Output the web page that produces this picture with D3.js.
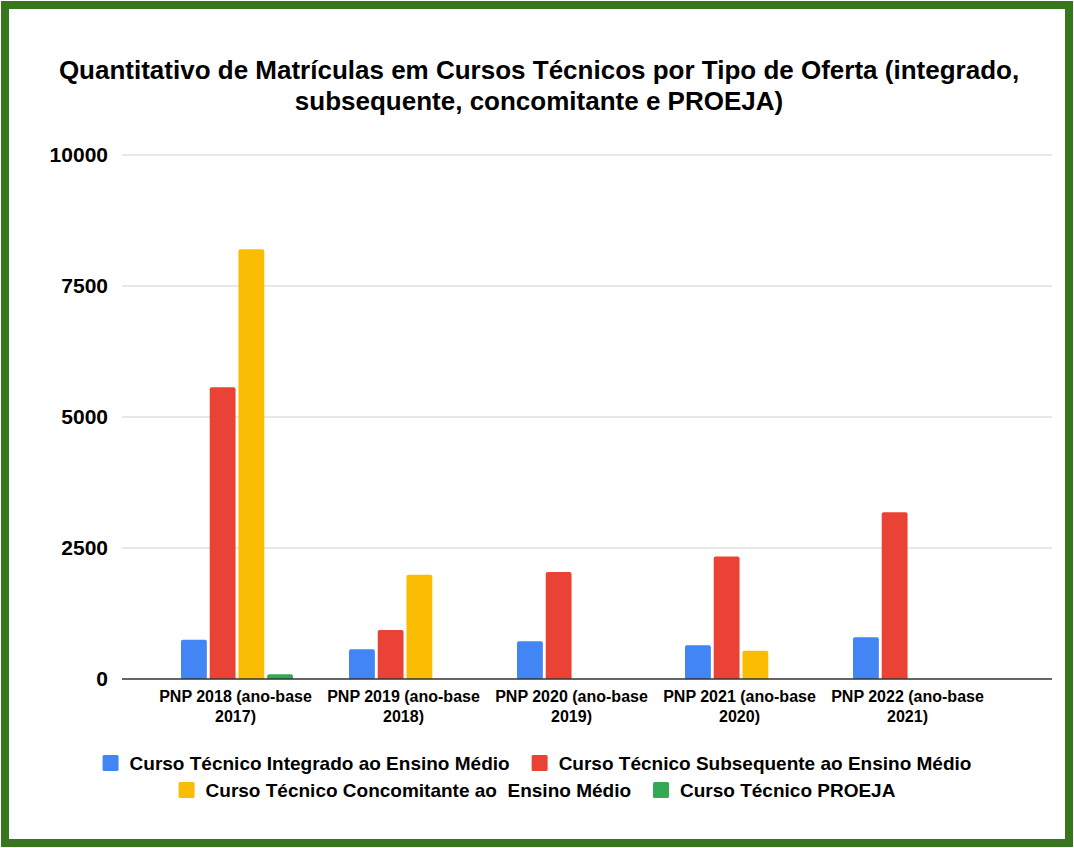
<!DOCTYPE html>
<html>
<head>
  <meta charset="utf-8">
  <script src="https://cdn.jsdelivr.net/npm/d3@7"></script>
  <style>
    body {margin:0; background:#fff;}
    text {font-family: "Liberation Sans", Arial, sans-serif; font-weight: bold; fill:#000;}
  </style>
</head>
<body>
<script>
const categories = [
  ["PNP 2018 (ano-base", "2017)"],
  ["PNP 2019 (ano-base", "2018)"],
  ["PNP 2020 (ano-base", "2019)"],
  ["PNP 2021 (ano-base", "2020)"],
  ["PNP 2022 (ano-base", "2021)"]
];
const seriesNames = [
  "Curso Técnico Integrado ao Ensino Médio",
  "Curso Técnico Subsequente ao Ensino Médio",
  "Curso Técnico Concomitante ao  Ensino Médio",
  "Curso Técnico PROEJA"
];
const colors = ["#4285f4", "#ea4335", "#fbbc04", "#34a853"];
const integrado    = [750, 570, 720, 645, 795];
const subsequente  = [5570, 935, 2040, 2340, 3180];
const concomitante = [8200, 1990, 0, 540, 0];
const proeja       = [90, 0, 0, 0, 0];
const yTicks = [0, 2500, 5000, 7500, 10000];

const values = [integrado, subsequente, concomitante, proeja];
const W = 1074, H = 848;

const svg = d3.select("body").append("svg").attr("width", W).attr("height", H);

// green frame
svg.append("rect").attr("x", 5).attr("y", 5).attr("width", W - 10).attr("height", H - 10)
  .attr("fill", "#fff").attr("stroke", "#38761d").attr("stroke-width", 8);

// title
const title = svg.append("text").attr("text-anchor", "middle").style("font-size", "26px");
title.append("tspan").attr("x", 539).attr("y", 79)
  .text("Quantitativo de Matrículas em Cursos Técnicos por Tipo de Oferta (integrado,");
title.append("tspan").attr("x", 539).attr("y", 110)
  .text("subsequente, concomitante e PROEJA)");

const y = d3.scaleLinear().domain([0, 10000]).range([679, 155]);
const x = d3.scaleBand().domain(d3.range(categories.length)).range([151.5, 991.5]);
const xs = d3.scaleBand().domain(d3.range(seriesNames.length))
  .range([29.5, 29.5 + 4 * 28]).paddingInner(0.1);

// gridlines
svg.append("g").selectAll("line").data(yTicks.slice(1)).join("line")
  .attr("x1", 122).attr("x2", 1052)
  .attr("y1", d => y(d)).attr("y2", d => y(d))
  .attr("stroke", "#d0d0d0").attr("stroke-width", 1);

// y labels
svg.append("g").selectAll("text").data(yTicks).join("text")
  .attr("x", 108).attr("y", d => y(d) + 7)
  .attr("text-anchor", "end").style("font-size", "21px")
  .text(d => d);

// bars
const groups = svg.append("g").selectAll("g").data(categories).join("g")
  .attr("transform", (d, i) => `translate(${x(i)},0)`);
groups.selectAll("path").data((d, i) => values.map((s, k) => ({k, v: s[i]})).filter(e => e.v > 0))
  .join("path")
  .attr("fill", d => colors[d.k])
  .attr("d", d => {
    const x0 = xs(d.k), w = xs.bandwidth(), y0 = y(d.v), y1 = y(0), r = Math.min(2, (y1 - y0) / 2);
    return `M${x0},${y1}V${y0 + r}Q${x0},${y0} ${x0 + r},${y0}H${x0 + w - r}Q${x0 + w},${y0} ${x0 + w},${y0 + r}V${y1}Z`;
  });

// baseline
svg.append("line").attr("x1", 122).attr("x2", 1052).attr("y1", y(0)).attr("y2", y(0))
  .attr("stroke", "#333").attr("stroke-width", 1.3);

// x labels
const xl = svg.append("g").selectAll("text").data(categories).join("text")
  .attr("text-anchor", "middle").style("font-size", "16px");
xl.selectAll("tspan").data((d, i) => d.map(t => ({t, i}))).join("tspan")
  .attr("x", d => x(d.i) + x.bandwidth() / 2)
  .attr("y", (d, j) => 702 + j * 20)
  .text(d => d.t);

// legend
const rows = [[0, 1], [2, 3]];
const rowY = [763, 790];
rows.forEach((row, r) => {
  const g = svg.append("g");
  let cx = 0;
  row.forEach((k, j) => {
    g.append("rect").attr("x", cx).attr("y", rowY[r] - 8).attr("width", 16).attr("height", 16)
      .attr("rx", 1.5).attr("fill", colors[k]);
    const t = g.append("text").attr("x", cx + 27).attr("y", rowY[r] + 7)
      .style("font-size", "19px").text(seriesNames[k]).attr("xml:space", "preserve");
    cx += 27 + t.node().getComputedTextLength() + (j < row.length - 1 ? 22 : 0);
  });
  g.attr("transform", `translate(${537 - cx / 2},0)`);
});
</script>
</body>
</html>
